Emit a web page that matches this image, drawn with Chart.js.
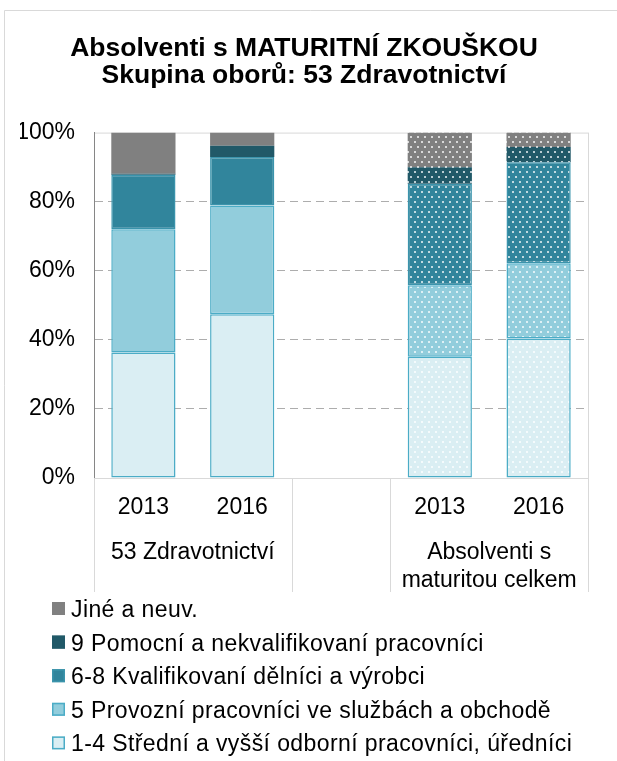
<!DOCTYPE html>
<html>
<head>
<meta charset="utf-8">
<script src="https://cdn.jsdelivr.net/npm/chart.js@4.4.1/dist/chart.umd.min.js"></script>
<style>
  html, body { margin: 0; padding: 0; background: #fff; }
  #wrap { width: 617px; height: 761px; position: relative; }
</style>
</head>
<body>
<div id="wrap"><canvas id="chart"></canvas></div>
<script>
var categories = ['2013', '2016', '', '2013', '2016'];
var groupNames = [['53 Zdravotnictví'], [], ['Absolventi s', 'maturitou celkem']];
var groupSizes = [2, 1, 2];
var seriesNames = [
    '1-4 Střední a vyšší odborní pracovníci, úředníci',
    '5 Provozní pracovníci ve službách a obchodě',
    '6-8 Kvalifikovaní dělníci a výrobci',
    '9 Pomocní a nekvalifikovaní pracovníci',
    'Jiné a neuv.'
];
// shares in %, bottom segment first
var odborni = [36.3, 47.4, null, 35.1, 40.4];
var provozni = [35.7, 31.5, null, 20.7, 21.8];
var kvalifikovani = [15.8, 14.0, null, 29.4, 29.2];
var pomocni = [0.3, 3.3, null, 4.8, 4.4];
var jine = [11.9, 3.8, null, 10.0, 4.2];
var dotted = [false, false, false, true, true]; // "celkem" bars are dotted

var fills = ['#DAEEF3', '#92CDDC', '#31859C', '#215968', '#808080'];
var borders = ['#4BACC6', '#4BACC6', '#3B94AC', '#215968', '#808080'];
var textFont = '"Liberation Sans", Arial, sans-serif';

var dots = function (color) {
    var c = document.createElement('canvas');
    c.width = 7;
    c.height = 10;
    var g = c.getContext('2d');
    g.fillStyle = color;
    g.fillRect(0, 0, 7, 10);
    g.fillStyle = 'rgba(255,255,255,0.7)';
    g.fillRect(1, 1, 2, 2);
    g.fillRect(4, 6, 2, 2);
    return g.createPattern(c, 'repeat');
};

var values = [odborni, provozni, kvalifikovani, pomocni, jine];
var datasets = values.map(function (v, i) {
    return {
        label: seriesNames[i],
        data: v,
        backgroundColor: dotted.map(function (d) { return d ? dots(fills[i]) : fills[i]; }),
        borderColor: borders[i],
        borderWidth: i < 3 ? 1.5 : 0,
        borderSkipped: false
    };
});

var extras = {
    id: 'extras',
    beforeDraw: function (chart) {
        var ctx = chart.ctx, a = chart.chartArea;
        ctx.save();
        ctx.fillStyle = '#fff';
        ctx.fillRect(0, 0, chart.width, chart.height);
        ctx.strokeStyle = '#D9D9D9';
        ctx.lineWidth = 1;
        ctx.beginPath();
        ctx.moveTo(4.5, chart.height);
        ctx.lineTo(4.5, 10.5);
        ctx.lineTo(chart.width, 10.5);
        ctx.stroke();
        ctx.strokeRect(a.left + 0.5, a.top + 0.5, a.right - a.left, a.bottom - a.top);
        ctx.restore();
    },
    afterDraw: function (chart) {
        var ctx = chart.ctx, x = chart.scales.x, a = chart.chartArea;
        var step = x.width / categories.length;
        ctx.save();

        // group separators + group names under the years
        var edges = [0];
        groupSizes.forEach(function (n) { edges.push(edges[edges.length - 1] + n); });
        ctx.strokeStyle = '#D9D9D9';
        ctx.lineWidth = 1;
        edges.forEach(function (e) {
            var px = Math.round(x.left + e * step) + 0.5;
            ctx.beginPath();
            ctx.moveTo(px, a.bottom);
            ctx.lineTo(px, x.bottom);
            ctx.stroke();
        });
        ctx.font = '23px ' + textFont;
        ctx.fillStyle = '#000';
        ctx.textAlign = 'center';
        ctx.textBaseline = 'alphabetic';
        groupNames.forEach(function (lines, g) {
            var cx = x.left + (edges[g] + edges[g + 1]) / 2 * step;
            lines.forEach(function (t, k) {
                ctx.fillText(t, cx, a.bottom + 81 + k * 28);
            });
        });

        // legend, one item per row, reversed
        ctx.font = '23px ' + textFont;
        ctx.letterSpacing = '0.4px';
        ctx.textAlign = 'left';
        var n = chart.data.datasets.length;
        for (var k = 0; k < n; k++) {
            var i = n - 1 - k;
            var base = x.bottom + 25 + k * 33.6;
            ctx.fillStyle = fills[i];
            ctx.fillRect(52, base - 15, 13, 13);
            ctx.strokeStyle = borders[i];
            ctx.lineWidth = 1.5;
            ctx.strokeRect(52.75, base - 14.25, 11.5, 11.5);
            ctx.fillStyle = '#000';
            ctx.fillText(chart.data.datasets[i].label, 71, base);
        }
        ctx.restore();
    }
};

new Chart(document.getElementById('chart'), {
    type: 'bar',
    data: { labels: categories, datasets: datasets },
    plugins: [extras],
    options: {
        responsive: true,
        maintainAspectRatio: false,
        animation: false,
        events: [],
        layout: { padding: { top: 0, left: 20, right: 29, bottom: 169 } },
        datasets: { bar: { categoryPercentage: 1, barPercentage: 0.65 } },
        plugins: {
            legend: { display: false },
            tooltip: { enabled: false },
            title: {
                display: true,
                text: ['Absolventi s MATURITNÍ ZKOUŠKOU', 'Skupina oborů: 53 Zdravotnictví'],
                color: '#000',
                font: { family: textFont, size: 26.5, weight: 'bold', lineHeight: 1.03 },
                padding: { top: 35, bottom: 43 }
            }
        },
        scales: {
            x: {
                stacked: true,
                grid: { display: false },
                border: { display: true, color: '#D9D9D9' },
                ticks: { color: '#000', font: { family: textFont, size: 23 }, padding: 8, autoSkip: false, maxRotation: 0 },
                afterFit: function (scale) { scale.height = 114; }
            },
            y: {
                stacked: true,
                min: 0,
                max: 100,
                grid: {
                    drawTicks: false,
                    color: function (c) { return (c.tick.value === 0 || c.tick.value === 100) ? 'rgba(0,0,0,0)' : '#ADADAD'; }
                },
                border: { display: true, color: '#868686', dash: [8, 5] },
                ticks: {
                    stepSize: 20,
                    color: '#000',
                    padding: 19,
                    font: { family: textFont, size: 23 },
                    callback: function (v) { return v + '%'; }
                },
                afterFit: function (scale) { scale.width = 74; }
            }
        }
    }
});
</script>
</body>
</html>
